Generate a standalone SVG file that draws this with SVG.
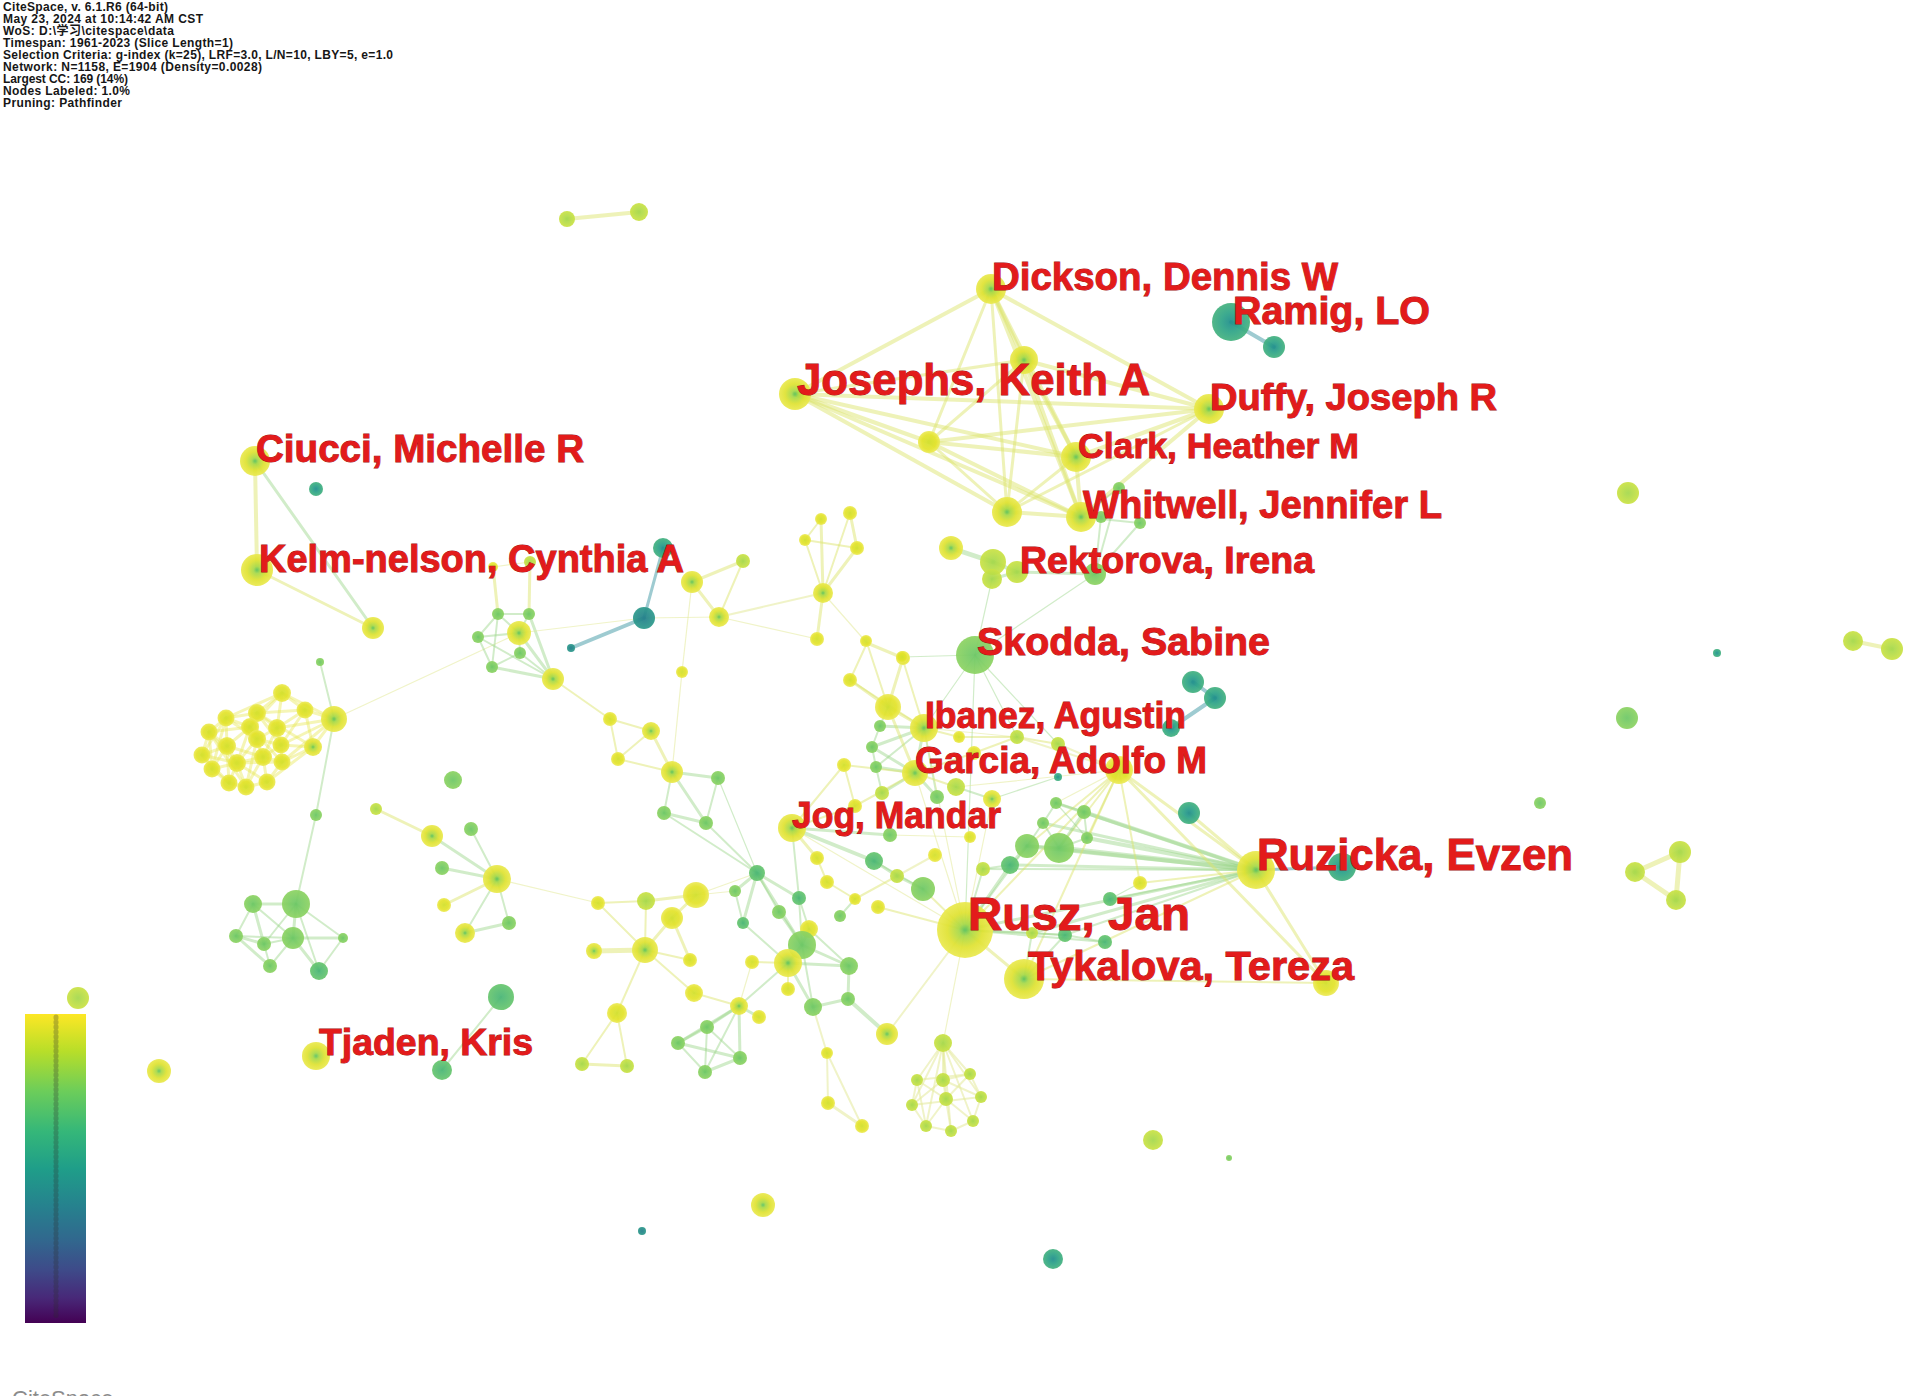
<svg xmlns="http://www.w3.org/2000/svg" width="1908" height="1396" viewBox="0 0 1908 1396">
<style>
.hd{font-family:"Liberation Sans","Noto Sans CJK SC",sans-serif;font-weight:700;font-size:12px;fill:#161616}
.lb{font-family:"Liberation Sans",Arial,sans-serif;font-weight:700;fill:#e31b1b;stroke:#a01212;stroke-width:.9px;paint-order:stroke}
.y{fill:url(#gY)}.yc{fill:url(#gYC)}.yg{fill:url(#gYG)}.g{fill:url(#gG)}.gg{fill:url(#gGG)}.t{fill:url(#gT)}.tb{fill:url(#gTB)}
circle{opacity:.93}
line{stroke-linecap:round;fill:none}
.ey{stroke:#dbe36a;stroke-opacity:.48}
.el{stroke:#e3e99a;stroke-opacity:.55}
.eg{stroke:#98d488;stroke-opacity:.45}
.et{stroke:#7db9c2;stroke-opacity:.75}
.ec{stroke:#e8e650;stroke-opacity:.42}
.w1{stroke-width:1.2px}.w2{stroke-width:2px}.w3{stroke-width:3px}.w4{stroke-width:4px}.w5{stroke-width:5px}
</style>
<defs>
<radialGradient id="gY"><stop offset="0" stop-color="#d2e030"/><stop offset=".65" stop-color="#e3e32a"/><stop offset="1" stop-color="#ecea58"/></radialGradient>
<radialGradient id="gYC"><stop offset="0" stop-color="#5cc25f"/><stop offset=".22" stop-color="#a8d948"/><stop offset=".62" stop-color="#dfe232"/><stop offset="1" stop-color="#eae94f"/></radialGradient>
<radialGradient id="gYG"><stop offset="0" stop-color="#a4d84c"/><stop offset="1" stop-color="#cbe244"/></radialGradient>
<radialGradient id="gG"><stop offset="0" stop-color="#6cc766"/><stop offset="1" stop-color="#8dd362"/></radialGradient>
<radialGradient id="gGG"><stop offset="0" stop-color="#48b576"/><stop offset="1" stop-color="#68c66e"/></radialGradient>
<radialGradient id="gT"><stop offset="0" stop-color="#1e8d8c"/><stop offset=".5" stop-color="#2ea487"/><stop offset="1" stop-color="#45b27f"/></radialGradient>
<radialGradient id="gTB"><stop offset="0" stop-color="#227e8a"/><stop offset="1" stop-color="#2d9a8b"/></radialGradient>
<linearGradient id="legend" x1="0" y1="0" x2="0" y2="1">
<stop offset="0" stop-color="#fde725"/><stop offset=".12" stop-color="#b8de29"/><stop offset=".25" stop-color="#6ccd5a"/><stop offset=".38" stop-color="#35b779"/><stop offset=".5" stop-color="#1f9e89"/><stop offset=".62" stop-color="#26828e"/><stop offset=".73" stop-color="#31688e"/><stop offset=".83" stop-color="#3e4a89"/><stop offset=".92" stop-color="#482878"/><stop offset="1" stop-color="#440154"/>
</linearGradient>
</defs>
<rect width="1908" height="1396" fill="#ffffff"/>

<g id="header">
<text class="hd" x="3" y="11" textLength="165">CiteSpace, v. 6.1.R6 (64-bit)</text>
<text class="hd" x="3" y="23" textLength="200">May 23, 2024 at 10:14:42 AM CST</text>
<text class="hd" x="3" y="35" textLength="171">WoS: D:\学习\citespace\data</text>
<text class="hd" x="3" y="47" textLength="230">Timespan: 1961-2023 (Slice Length=1)</text>
<text class="hd" x="3" y="59" textLength="390">Selection Criteria: g-index (k=25), LRF=3.0, L/N=10, LBY=5, e=1.0</text>
<text class="hd" x="3" y="71" textLength="259">Network: N=1158, E=1904 (Density=0.0028)</text>
<text class="hd" x="3" y="83" textLength="125">Largest CC: 169 (14%)</text>
<text class="hd" x="3" y="95" textLength="127">Nodes Labeled: 1.0%</text>
<text class="hd" x="3" y="107" textLength="119">Pruning: Pathfinder</text>
</g>

<g id="legend-bar">
<rect x="25" y="1014" width="61" height="309" fill="url(#legend)"/>
<line x1="56" y1="1017" x2="56" y2="1319" stroke="#2a2a2a" stroke-opacity=".28" stroke-width="5" stroke-dasharray="1 3.8"/>
</g>
<text x="12" y="1406" font-family="Liberation Sans, Arial, sans-serif" font-size="22" fill="#8c8c8c">CiteSpace</text>

<g id="connectors">
<line class="ey w4" x1="795" y1="394" x2="991" y2="289"/>
<line class="ey w4" x1="795" y1="394" x2="1209" y2="409"/>
<line class="ey w4" x1="795" y1="394" x2="929" y2="442"/>
<line class="ey w4" x1="795" y1="394" x2="1076" y2="457"/>
<line class="ey w4" x1="795" y1="394" x2="1007" y2="512"/>
<line class="ey w4" x1="795" y1="394" x2="1081" y2="517"/>
<line class="ey w3" x1="795" y1="394" x2="1024" y2="360"/>
<line class="ey w4" x1="991" y1="289" x2="1024" y2="360"/>
<line class="ey w4" x1="991" y1="289" x2="1209" y2="409"/>
<line class="ey w3" x1="991" y1="289" x2="929" y2="442"/>
<line class="ey w4" x1="991" y1="289" x2="1076" y2="457"/>
<line class="ey w3" x1="991" y1="289" x2="1007" y2="512"/>
<line class="ey w4" x1="991" y1="289" x2="1081" y2="517"/>
<line class="ey w4" x1="1024" y1="360" x2="1209" y2="409"/>
<line class="ey w4" x1="1024" y1="360" x2="1076" y2="457"/>
<line class="ey w4" x1="1024" y1="360" x2="1081" y2="517"/>
<line class="ey w3" x1="1024" y1="360" x2="1007" y2="512"/>
<line class="ey w3" x1="1024" y1="360" x2="929" y2="442"/>
<line class="ey w4" x1="1209" y1="409" x2="929" y2="442"/>
<line class="ey w4" x1="1209" y1="409" x2="1076" y2="457"/>
<line class="ey w4" x1="1209" y1="409" x2="1081" y2="517"/>
<line class="ey w3" x1="1209" y1="409" x2="1007" y2="512"/>
<line class="ey w4" x1="929" y1="442" x2="1076" y2="457"/>
<line class="ey w4" x1="929" y1="442" x2="1081" y2="517"/>
<line class="ey w3" x1="929" y1="442" x2="1007" y2="512"/>
<line class="ey w4" x1="1076" y1="457" x2="1081" y2="517"/>
<line class="ey w3" x1="1076" y1="457" x2="1007" y2="512"/>
<line class="ey w4" x1="1007" y1="512" x2="1081" y2="517"/>
<line class="eg w2" x1="1081" y1="517" x2="1119" y2="488"/>
<line class="eg w2" x1="1081" y1="517" x2="1140" y2="523"/>
<line class="eg w2" x1="1101" y1="517" x2="1095" y2="574"/>
<line class="eg w2" x1="1140" y1="523" x2="1095" y2="574"/>
<line class="eg w2" x1="1119" y1="488" x2="1095" y2="574"/>
<line class="eg w5" x1="951" y1="548" x2="993" y2="562"/>
<line class="eg w4" x1="993" y1="562" x2="1017" y2="572"/>
<line class="eg w3" x1="1017" y1="572" x2="992" y2="579"/>
<line class="eg w3" x1="1017" y1="572" x2="1095" y2="574"/>
<line class="eg w1" x1="975" y1="655" x2="1095" y2="574"/>
<line class="eg w1" x1="975" y1="655" x2="992" y2="579"/>
<line class="et w4" x1="1231" y1="322" x2="1274" y2="347"/>
<line class="ey w4" x1="255" y1="461" x2="257" y2="570"/>
<line class="eg w3" x1="255" y1="461" x2="373" y2="628"/>
<line class="ey w3" x1="257" y1="570" x2="373" y2="628"/>
<line class="ec w3" x1="282" y1="693" x2="305" y2="710"/>
<line class="ec w3" x1="282" y1="693" x2="257" y2="713"/>
<line class="ec w3" x1="282" y1="693" x2="277" y2="728"/>
<line class="ec w3" x1="282" y1="693" x2="334" y2="719"/>
<line class="ec w3" x1="282" y1="693" x2="250" y2="727"/>
<line class="ec w3" x1="282" y1="693" x2="226" y2="718"/>
<line class="ec w3" x1="305" y1="710" x2="277" y2="728"/>
<line class="ec w3" x1="305" y1="710" x2="334" y2="719"/>
<line class="ec w3" x1="305" y1="710" x2="257" y2="713"/>
<line class="ec w3" x1="305" y1="710" x2="281" y2="745"/>
<line class="ec w3" x1="226" y1="718" x2="257" y2="713"/>
<line class="ec w3" x1="226" y1="718" x2="209" y2="732"/>
<line class="ec w3" x1="226" y1="718" x2="250" y2="727"/>
<line class="ec w3" x1="226" y1="718" x2="227" y2="746"/>
<line class="ec w3" x1="226" y1="718" x2="257" y2="739"/>
<line class="ec w3" x1="257" y1="713" x2="250" y2="727"/>
<line class="ec w3" x1="257" y1="713" x2="277" y2="728"/>
<line class="ec w3" x1="257" y1="713" x2="257" y2="739"/>
<line class="ec w3" x1="257" y1="713" x2="281" y2="745"/>
<line class="ec w3" x1="209" y1="732" x2="250" y2="727"/>
<line class="ec w3" x1="209" y1="732" x2="227" y2="746"/>
<line class="ec w3" x1="209" y1="732" x2="202" y2="755"/>
<line class="ec w3" x1="209" y1="732" x2="212" y2="769"/>
<line class="ec w3" x1="209" y1="732" x2="237" y2="763"/>
<line class="ec w3" x1="250" y1="727" x2="257" y2="739"/>
<line class="ec w3" x1="250" y1="727" x2="227" y2="746"/>
<line class="ec w3" x1="250" y1="727" x2="263" y2="757"/>
<line class="ec w3" x1="250" y1="727" x2="237" y2="763"/>
<line class="ec w3" x1="277" y1="728" x2="257" y2="739"/>
<line class="ec w3" x1="277" y1="728" x2="281" y2="745"/>
<line class="ec w3" x1="277" y1="728" x2="334" y2="719"/>
<line class="ec w3" x1="277" y1="728" x2="263" y2="757"/>
<line class="ec w3" x1="257" y1="739" x2="281" y2="745"/>
<line class="ec w3" x1="257" y1="739" x2="263" y2="757"/>
<line class="ec w3" x1="257" y1="739" x2="237" y2="763"/>
<line class="ec w3" x1="257" y1="739" x2="246" y2="787"/>
<line class="ec w3" x1="227" y1="746" x2="202" y2="755"/>
<line class="ec w3" x1="227" y1="746" x2="237" y2="763"/>
<line class="ec w3" x1="227" y1="746" x2="263" y2="757"/>
<line class="ec w3" x1="227" y1="746" x2="212" y2="769"/>
<line class="ec w3" x1="227" y1="746" x2="229" y2="783"/>
<line class="ec w3" x1="281" y1="745" x2="263" y2="757"/>
<line class="ec w3" x1="281" y1="745" x2="282" y2="762"/>
<line class="ec w3" x1="281" y1="745" x2="334" y2="719"/>
<line class="ec w3" x1="281" y1="745" x2="313" y2="747"/>
<line class="ec w3" x1="202" y1="755" x2="212" y2="769"/>
<line class="ec w3" x1="202" y1="755" x2="237" y2="763"/>
<line class="ec w3" x1="202" y1="755" x2="229" y2="783"/>
<line class="ec w3" x1="263" y1="757" x2="237" y2="763"/>
<line class="ec w3" x1="263" y1="757" x2="282" y2="762"/>
<line class="ec w3" x1="263" y1="757" x2="267" y2="782"/>
<line class="ec w3" x1="263" y1="757" x2="246" y2="787"/>
<line class="ec w3" x1="237" y1="763" x2="212" y2="769"/>
<line class="ec w3" x1="237" y1="763" x2="229" y2="783"/>
<line class="ec w3" x1="237" y1="763" x2="246" y2="787"/>
<line class="ec w3" x1="237" y1="763" x2="267" y2="782"/>
<line class="ec w3" x1="282" y1="762" x2="267" y2="782"/>
<line class="ec w3" x1="282" y1="762" x2="334" y2="719"/>
<line class="ec w3" x1="282" y1="762" x2="313" y2="747"/>
<line class="ec w3" x1="212" y1="769" x2="229" y2="783"/>
<line class="ec w3" x1="229" y1="783" x2="246" y2="787"/>
<line class="ec w3" x1="246" y1="787" x2="267" y2="782"/>
<line class="ec w3" x1="267" y1="782" x2="313" y2="747"/>
<line class="ec w3" x1="313" y1="747" x2="334" y2="719"/>
<line class="ec w3" x1="305" y1="710" x2="313" y2="747"/>
<line class="ec w3" x1="226" y1="718" x2="202" y2="755"/>
<line class="ec w3" x1="226" y1="718" x2="212" y2="769"/>
<line class="ec w3" x1="209" y1="732" x2="246" y2="787"/>
<line class="ec w3" x1="250" y1="727" x2="282" y2="762"/>
<line class="ec w3" x1="257" y1="713" x2="313" y2="747"/>
<line class="ec w3" x1="237" y1="763" x2="282" y2="762"/>
<line class="eg w2" x1="334" y1="719" x2="320" y2="662"/>
<line class="eg w2" x1="334" y1="719" x2="316" y2="815"/>
<line class="el w1" x1="334" y1="719" x2="519" y2="633"/>
<line class="eg w2" x1="316" y1="815" x2="296" y2="904"/>
<line class="ey w3" x1="376" y1="809" x2="432" y2="836"/>
<line class="eg w3" x1="253" y1="904" x2="296" y2="904"/>
<line class="eg w2" x1="253" y1="904" x2="236" y2="936"/>
<line class="eg w3" x1="253" y1="904" x2="264" y2="944"/>
<line class="eg w2" x1="253" y1="904" x2="293" y2="938"/>
<line class="eg w3" x1="296" y1="904" x2="293" y2="938"/>
<line class="eg w2" x1="296" y1="904" x2="264" y2="944"/>
<line class="eg w2" x1="296" y1="904" x2="343" y2="938"/>
<line class="eg w2" x1="296" y1="904" x2="319" y2="971"/>
<line class="eg w3" x1="236" y1="936" x2="264" y2="944"/>
<line class="eg w3" x1="236" y1="936" x2="270" y2="966"/>
<line class="eg w2" x1="236" y1="936" x2="293" y2="938"/>
<line class="eg w2" x1="264" y1="944" x2="270" y2="966"/>
<line class="eg w2" x1="264" y1="944" x2="293" y2="938"/>
<line class="eg w3" x1="293" y1="938" x2="343" y2="938"/>
<line class="eg w3" x1="293" y1="938" x2="319" y2="971"/>
<line class="eg w2" x1="293" y1="938" x2="270" y2="966"/>
<line class="eg w2" x1="343" y1="938" x2="319" y2="971"/>
<line class="eg w3" x1="497" y1="879" x2="432" y2="836"/>
<line class="eg w2" x1="497" y1="879" x2="471" y2="829"/>
<line class="eg w3" x1="497" y1="879" x2="442" y2="868"/>
<line class="ey w3" x1="497" y1="879" x2="444" y2="905"/>
<line class="eg w2" x1="497" y1="879" x2="509" y2="923"/>
<line class="eg w2" x1="497" y1="879" x2="465" y2="933"/>
<line class="el w1" x1="497" y1="879" x2="598" y2="903"/>
<line class="eg w3" x1="465" y1="933" x2="509" y2="923"/>
<line class="eg w2" x1="501" y1="997" x2="442" y2="1070"/>
<line class="eg w2" x1="498" y1="614" x2="529" y2="614"/>
<line class="eg w2" x1="498" y1="614" x2="478" y2="637"/>
<line class="eg w2" x1="498" y1="614" x2="519" y2="633"/>
<line class="eg w2" x1="498" y1="614" x2="492" y2="667"/>
<line class="eg w2" x1="529" y1="614" x2="519" y2="633"/>
<line class="eg w3" x1="529" y1="614" x2="553" y2="679"/>
<line class="eg w2" x1="478" y1="637" x2="519" y2="633"/>
<line class="eg w2" x1="478" y1="637" x2="492" y2="667"/>
<line class="eg w2" x1="519" y1="633" x2="520" y2="653"/>
<line class="eg w3" x1="519" y1="633" x2="553" y2="679"/>
<line class="eg w2" x1="520" y1="653" x2="492" y2="667"/>
<line class="eg w2" x1="520" y1="653" x2="553" y2="679"/>
<line class="eg w3" x1="492" y1="667" x2="553" y2="679"/>
<line class="eg w2" x1="478" y1="637" x2="553" y2="679"/>
<line class="ey w3" x1="493" y1="567" x2="498" y2="614"/>
<line class="ey w3" x1="530" y1="562" x2="529" y2="614"/>
<line class="el w1" x1="493" y1="567" x2="530" y2="562"/>
<line class="el w1" x1="519" y1="633" x2="644" y2="618"/>
<line class="el w1" x1="644" y1="618" x2="719" y2="617"/>
<line class="et w3" x1="644" y1="618" x2="663" y2="548"/>
<line class="et w4" x1="644" y1="618" x2="571" y2="648"/>
<line class="ey w2" x1="553" y1="679" x2="610" y2="719"/>
<line class="ey w2" x1="610" y1="719" x2="651" y2="731"/>
<line class="ey w2" x1="610" y1="719" x2="618" y2="759"/>
<line class="ey w3" x1="651" y1="731" x2="672" y2="772"/>
<line class="ey w2" x1="618" y1="759" x2="672" y2="772"/>
<line class="ey w2" x1="651" y1="731" x2="618" y2="759"/>
<line class="ey w3" x1="692" y1="582" x2="743" y2="561"/>
<line class="ey w3" x1="692" y1="582" x2="719" y2="617"/>
<line class="ey w2" x1="743" y1="561" x2="719" y2="617"/>
<line class="el w1" x1="692" y1="582" x2="682" y2="672"/>
<line class="el w1" x1="682" y1="672" x2="672" y2="772"/>
<line class="el w2" x1="719" y1="617" x2="823" y2="593"/>
<line class="el w1" x1="719" y1="617" x2="817" y2="639"/>
<line class="ey w3" x1="823" y1="593" x2="817" y2="639"/>
<line class="ey w3" x1="823" y1="593" x2="821" y2="519"/>
<line class="ey w2" x1="823" y1="593" x2="850" y2="513"/>
<line class="ey w2" x1="823" y1="593" x2="805" y2="540"/>
<line class="ey w3" x1="823" y1="593" x2="857" y2="548"/>
<line class="ey w2" x1="805" y1="540" x2="857" y2="548"/>
<line class="ey w3" x1="850" y1="513" x2="857" y2="548"/>
<line class="ey w2" x1="821" y1="519" x2="805" y2="540"/>
<line class="el w1" x1="823" y1="593" x2="867" y2="643"/>
<line class="ey w3" x1="867" y1="643" x2="903" y2="658"/>
<line class="ey w2" x1="867" y1="643" x2="850" y2="680"/>
<line class="ey w3" x1="850" y1="680" x2="888" y2="707"/>
<line class="ey w3" x1="903" y1="658" x2="888" y2="707"/>
<line class="ey w2" x1="867" y1="643" x2="888" y2="707"/>
<line class="eg w3" x1="672" y1="772" x2="718" y2="778"/>
<line class="eg w2" x1="672" y1="772" x2="664" y2="813"/>
<line class="eg w3" x1="672" y1="772" x2="706" y2="823"/>
<line class="eg w3" x1="664" y1="813" x2="706" y2="823"/>
<line class="eg w2" x1="718" y1="778" x2="706" y2="823"/>
<line class="eg w2" x1="706" y1="823" x2="757" y2="873"/>
<line class="eg w2" x1="664" y1="813" x2="757" y2="873"/>
<line class="eg w1" x1="718" y1="778" x2="757" y2="873"/>
<line class="eg w3" x1="757" y1="873" x2="735" y2="891"/>
<line class="eg w3" x1="757" y1="873" x2="799" y2="898"/>
<line class="eg w2" x1="757" y1="873" x2="779" y2="912"/>
<line class="eg w3" x1="757" y1="873" x2="802" y2="945"/>
<line class="eg w3" x1="757" y1="873" x2="743" y2="923"/>
<line class="el w1" x1="757" y1="873" x2="696" y2="895"/>
<line class="eg w2" x1="802" y1="945" x2="799" y2="898"/>
<line class="eg w3" x1="802" y1="945" x2="809" y2="929"/>
<line class="eg w3" x1="802" y1="945" x2="779" y2="912"/>
<line class="eg w3" x1="802" y1="945" x2="788" y2="963"/>
<line class="eg w3" x1="802" y1="945" x2="849" y2="966"/>
<line class="eg w2" x1="802" y1="945" x2="813" y2="1007"/>
<line class="ey w2" x1="788" y1="963" x2="752" y2="962"/>
<line class="eg w3" x1="788" y1="963" x2="849" y2="966"/>
<line class="eg w3" x1="788" y1="963" x2="813" y2="1007"/>
<line class="eg w2" x1="788" y1="963" x2="739" y2="1006"/>
<line class="ey w2" x1="788" y1="963" x2="788" y2="989"/>
<line class="eg w3" x1="849" y1="966" x2="848" y2="999"/>
<line class="eg w3" x1="813" y1="1007" x2="848" y2="999"/>
<line class="eg w4" x1="848" y1="999" x2="887" y2="1034"/>
<line class="el w2" x1="813" y1="1007" x2="827" y2="1053"/>
<line class="el w2" x1="827" y1="1053" x2="828" y2="1103"/>
<line class="el w2" x1="827" y1="1053" x2="862" y2="1126"/>
<line class="el w3" x1="828" y1="1103" x2="862" y2="1126"/>
<line class="eg w2" x1="809" y1="929" x2="849" y2="966"/>
<line class="eg w2" x1="735" y1="891" x2="743" y2="923"/>
<line class="eg w2" x1="743" y1="923" x2="788" y2="963"/>
<line class="eg w2" x1="809" y1="929" x2="799" y2="898"/>
<line class="eg w3" x1="739" y1="1006" x2="759" y2="1017"/>
<line class="eg w3" x1="739" y1="1006" x2="707" y2="1027"/>
<line class="eg w3" x1="739" y1="1006" x2="678" y2="1043"/>
<line class="eg w3" x1="739" y1="1006" x2="740" y2="1058"/>
<line class="eg w2" x1="739" y1="1006" x2="705" y2="1072"/>
<line class="ey w2" x1="739" y1="1006" x2="694" y2="993"/>
<line class="el w1" x1="739" y1="1006" x2="752" y2="962"/>
<line class="eg w3" x1="707" y1="1027" x2="678" y2="1043"/>
<line class="eg w3" x1="678" y1="1043" x2="740" y2="1058"/>
<line class="eg w2" x1="678" y1="1043" x2="705" y2="1072"/>
<line class="eg w3" x1="705" y1="1072" x2="740" y2="1058"/>
<line class="eg w2" x1="707" y1="1027" x2="740" y2="1058"/>
<line class="eg w2" x1="707" y1="1027" x2="705" y2="1072"/>
<line class="ey w2" x1="598" y1="903" x2="646" y2="901"/>
<line class="ey w3" x1="646" y1="901" x2="696" y2="895"/>
<line class="ey w3" x1="696" y1="895" x2="672" y2="918"/>
<line class="ey w2" x1="646" y1="901" x2="645" y2="950"/>
<line class="ey w5" x1="594" y1="951" x2="645" y2="950"/>
<line class="ey w3" x1="645" y1="950" x2="672" y2="918"/>
<line class="ey w2" x1="645" y1="950" x2="690" y2="960"/>
<line class="ey w3" x1="672" y1="918" x2="690" y2="960"/>
<line class="ey w2" x1="645" y1="950" x2="617" y2="1013"/>
<line class="ey w2" x1="598" y1="903" x2="645" y2="950"/>
<line class="ey w2" x1="645" y1="950" x2="694" y2="993"/>
<line class="ey w2" x1="617" y1="1013" x2="582" y2="1064"/>
<line class="ey w2" x1="617" y1="1013" x2="627" y2="1066"/>
<line class="ey w3" x1="582" y1="1064" x2="627" y2="1066"/>
<line class="el w1" x1="696" y1="895" x2="735" y2="891"/>
<line class="eg w3" x1="792" y1="828" x2="890" y2="835"/>
<line class="ey w3" x1="792" y1="828" x2="817" y2="858"/>
<line class="eg w4" x1="792" y1="828" x2="874" y2="861"/>
<line class="ey w2" x1="792" y1="828" x2="855" y2="806"/>
<line class="ey w2" x1="792" y1="828" x2="844" y2="765"/>
<line class="el w1" x1="792" y1="828" x2="965" y2="930"/>
<line class="eg w2" x1="792" y1="828" x2="799" y2="898"/>
<line class="ey w2" x1="817" y1="858" x2="827" y2="882"/>
<line class="eg w3" x1="874" y1="861" x2="897" y2="876"/>
<line class="eg w3" x1="897" y1="876" x2="923" y2="889"/>
<line class="eg w2" x1="874" y1="861" x2="923" y2="889"/>
<line class="ey w2" x1="923" y1="889" x2="965" y2="930"/>
<line class="ey w2" x1="878" y1="907" x2="965" y2="930"/>
<line class="ey w2" x1="855" y1="899" x2="897" y2="876"/>
<line class="eg w2" x1="840" y1="916" x2="855" y2="899"/>
<line class="ey w2" x1="827" y1="882" x2="855" y2="899"/>
<line class="el w1" x1="890" y1="835" x2="970" y2="837"/>
<line class="el w2" x1="935" y1="855" x2="897" y2="876"/>
<line class="ey w3" x1="924" y1="728" x2="888" y2="707"/>
<line class="eg w3" x1="924" y1="728" x2="880" y2="726"/>
<line class="eg w3" x1="924" y1="728" x2="872" y2="747"/>
<line class="eg w2" x1="924" y1="728" x2="876" y2="767"/>
<line class="eg w3" x1="924" y1="728" x2="915" y2="773"/>
<line class="ey w2" x1="924" y1="728" x2="959" y2="737"/>
<line class="ey w2" x1="924" y1="728" x2="902" y2="657"/>
<line class="eg w1" x1="924" y1="728" x2="975" y2="655"/>
<line class="ey w2" x1="924" y1="728" x2="850" y2="680"/>
<line class="eg w2" x1="924" y1="728" x2="937" y2="797"/>
<line class="el w1" x1="924" y1="728" x2="1017" y2="737"/>
<line class="eg w3" x1="915" y1="773" x2="872" y2="747"/>
<line class="eg w3" x1="915" y1="773" x2="876" y2="767"/>
<line class="eg w3" x1="915" y1="773" x2="882" y2="793"/>
<line class="ey w2" x1="915" y1="773" x2="844" y2="765"/>
<line class="ey w2" x1="915" y1="773" x2="855" y2="806"/>
<line class="eg w3" x1="915" y1="773" x2="937" y2="797"/>
<line class="ey w2" x1="915" y1="773" x2="956" y2="787"/>
<line class="ey w2" x1="915" y1="773" x2="974" y2="753"/>
<line class="ey w3" x1="915" y1="773" x2="888" y2="707"/>
<line class="eg w2" x1="880" y1="726" x2="872" y2="747"/>
<line class="eg w2" x1="872" y1="747" x2="876" y2="767"/>
<line class="eg w2" x1="876" y1="767" x2="882" y2="793"/>
<line class="ey w2" x1="844" y1="765" x2="855" y2="806"/>
<line class="eg w2" x1="888" y1="707" x2="880" y2="726"/>
<line class="eg w2" x1="956" y1="787" x2="992" y2="799"/>
<line class="ey w2" x1="974" y1="753" x2="1017" y2="737"/>
<line class="ey w2" x1="1017" y1="737" x2="1058" y2="744"/>
<line class="ey w2" x1="959" y1="737" x2="1017" y2="737"/>
<line class="eg w1" x1="975" y1="655" x2="1017" y2="737"/>
<line class="eg w1" x1="975" y1="655" x2="902" y2="657"/>
<line class="eg w1" x1="975" y1="655" x2="965" y2="930"/>
<line class="eg w1" x1="975" y1="655" x2="1058" y2="744"/>
<line class="eg w1" x1="992" y1="799" x2="1058" y2="777"/>
<line class="et w4" x1="1193" y1="682" x2="1215" y2="698"/>
<line class="et w4" x1="1215" y1="698" x2="1171" y2="728"/>
<line class="ey w3" x1="1256" y1="870" x2="1119" y2="770"/>
<line class="eg w4" x1="1256" y1="870" x2="1084" y2="812"/>
<line class="eg w4" x1="1256" y1="870" x2="1087" y2="838"/>
<line class="eg w5" x1="1256" y1="870" x2="1059" y2="848"/>
<line class="eg w4" x1="1256" y1="870" x2="1027" y2="846"/>
<line class="eg w3" x1="1256" y1="870" x2="1010" y2="865"/>
<line class="eg w3" x1="1256" y1="870" x2="1056" y2="803"/>
<line class="eg w3" x1="1256" y1="870" x2="1043" y2="823"/>
<line class="eg w3" x1="1256" y1="870" x2="965" y2="930"/>
<line class="eg w3" x1="1256" y1="870" x2="1032" y2="933"/>
<line class="eg w2" x1="1256" y1="870" x2="1065" y2="935"/>
<line class="eg w2" x1="1256" y1="870" x2="1110" y2="899"/>
<line class="ey w2" x1="1256" y1="870" x2="1140" y2="883"/>
<line class="ey w2" x1="1256" y1="870" x2="1024" y2="979"/>
<line class="ey w3" x1="1256" y1="870" x2="1326" y2="983"/>
<line class="ey w3" x1="1256" y1="870" x2="1189" y2="813"/>
<line class="eg w2" x1="1256" y1="870" x2="983" y2="869"/>
<line class="et w3" x1="1256" y1="870" x2="1342" y2="867"/>
<line class="ey w2" x1="1119" y1="770" x2="965" y2="930"/>
<line class="ey w2" x1="1119" y1="770" x2="1024" y2="979"/>
<line class="ey w3" x1="1119" y1="770" x2="1326" y2="983"/>
<line class="ey w2" x1="1119" y1="770" x2="1140" y2="883"/>
<line class="ey w2" x1="1119" y1="770" x2="1059" y2="848"/>
<line class="ey w2" x1="1119" y1="770" x2="1027" y2="846"/>
<line class="ey w2" x1="1119" y1="770" x2="1087" y2="838"/>
<line class="el w1" x1="1119" y1="770" x2="1056" y2="803"/>
<line class="el w2" x1="1119" y1="770" x2="1017" y2="737"/>
<line class="el w2" x1="1119" y1="770" x2="1058" y2="744"/>
<line class="el w1" x1="1119" y1="770" x2="956" y2="787"/>
<line class="ey w3" x1="965" y1="930" x2="1024" y2="979"/>
<line class="eg w3" x1="965" y1="930" x2="1010" y2="865"/>
<line class="eg w2" x1="965" y1="930" x2="1027" y2="846"/>
<line class="eg w2" x1="965" y1="930" x2="983" y2="869"/>
<line class="eg w2" x1="965" y1="930" x2="1032" y2="933"/>
<line class="eg w2" x1="965" y1="930" x2="1065" y2="935"/>
<line class="eg w2" x1="965" y1="930" x2="1105" y2="942"/>
<line class="el w1" x1="965" y1="930" x2="943" y2="1043"/>
<line class="el w2" x1="965" y1="930" x2="887" y2="1034"/>
<line class="el w1" x1="965" y1="930" x2="915" y2="773"/>
<line class="el w1" x1="965" y1="930" x2="924" y2="728"/>
<line class="el w1" x1="965" y1="930" x2="992" y2="799"/>
<line class="ey w2" x1="1024" y1="979" x2="1326" y2="983"/>
<line class="eg w2" x1="1024" y1="979" x2="1032" y2="933"/>
<line class="eg w2" x1="1024" y1="979" x2="1065" y2="935"/>
<line class="eg w3" x1="1059" y1="848" x2="1027" y2="846"/>
<line class="eg w3" x1="1059" y1="848" x2="1084" y2="812"/>
<line class="eg w2" x1="1059" y1="848" x2="1087" y2="838"/>
<line class="eg w2" x1="1056" y1="803" x2="1084" y2="812"/>
<line class="eg w2" x1="1056" y1="803" x2="1043" y2="823"/>
<line class="eg w2" x1="1043" y1="823" x2="1027" y2="846"/>
<line class="eg w2" x1="1084" y1="812" x2="1087" y2="838"/>
<line class="eg w3" x1="1027" y1="846" x2="1010" y2="865"/>
<line class="eg w2" x1="1010" y1="865" x2="983" y2="869"/>
<line class="eg w2" x1="1043" y1="823" x2="1059" y2="848"/>
<line class="eg w1" x1="1056" y1="803" x2="1087" y2="838"/>
<line class="eg w2" x1="1065" y1="935" x2="1105" y2="942"/>
<line class="eg w2" x1="1032" y1="933" x2="1065" y2="935"/>
<line class="eg w1" x1="1140" y1="883" x2="1110" y2="899"/>
<line class="el w2" x1="943" y1="1043" x2="917" y2="1080"/>
<line class="el w2" x1="943" y1="1043" x2="943" y2="1080"/>
<line class="el w2" x1="943" y1="1043" x2="970" y2="1074"/>
<line class="el w2" x1="943" y1="1043" x2="946" y2="1099"/>
<line class="el w2" x1="943" y1="1043" x2="912" y2="1105"/>
<line class="el w2" x1="943" y1="1043" x2="981" y2="1097"/>
<line class="el w2" x1="943" y1="1043" x2="926" y2="1126"/>
<line class="el w2" x1="943" y1="1043" x2="951" y2="1131"/>
<line class="el w2" x1="943" y1="1043" x2="973" y2="1121"/>
<line class="el w2" x1="917" y1="1080" x2="912" y2="1105"/>
<line class="el w2" x1="917" y1="1080" x2="946" y2="1099"/>
<line class="el w2" x1="917" y1="1080" x2="926" y2="1126"/>
<line class="el w2" x1="943" y1="1080" x2="970" y2="1074"/>
<line class="el w2" x1="943" y1="1080" x2="981" y2="1097"/>
<line class="el w2" x1="943" y1="1080" x2="951" y2="1131"/>
<line class="el w2" x1="943" y1="1080" x2="912" y2="1105"/>
<line class="el w2" x1="970" y1="1074" x2="981" y2="1097"/>
<line class="el w2" x1="970" y1="1074" x2="946" y2="1099"/>
<line class="el w2" x1="946" y1="1099" x2="973" y2="1121"/>
<line class="el w2" x1="946" y1="1099" x2="926" y2="1126"/>
<line class="el w2" x1="912" y1="1105" x2="926" y2="1126"/>
<line class="el w2" x1="926" y1="1126" x2="951" y2="1131"/>
<line class="el w2" x1="951" y1="1131" x2="973" y2="1121"/>
<line class="el w2" x1="973" y1="1121" x2="981" y2="1097"/>
<line class="el w2" x1="912" y1="1105" x2="981" y2="1097"/>
<line class="el w2" x1="917" y1="1080" x2="970" y2="1074"/>
<line class="ey w4" x1="567" y1="219" x2="639" y2="212"/>
<line class="ey w4" x1="1853" y1="641" x2="1892" y2="649"/>
<line class="ey w5" x1="1680" y1="852" x2="1635" y2="872"/>
<line class="ey w5" x1="1680" y1="852" x2="1676" y2="900"/>
<line class="ey w5" x1="1635" y1="872" x2="1676" y2="900"/>
</g>

<g id="nodes">
<g id="n-top1"><circle class="yg" cx="567" cy="219" r="8"/></g>
<g id="n-top2"><circle class="yg" cx="639" cy="212" r="9"/></g>
<g id="n-ramig2"><circle class="t" cx="1274" cy="347" r="11"/></g>
<g id="n-j1"><circle class="yc" cx="1024" cy="360" r="14"/></g>
<g id="n-j2"><circle class="y" cx="929" cy="442" r="11"/></g>
<g id="n-j3"><circle class="yc" cx="1007" cy="512" r="15"/></g>
<g id="n-wg1"><circle class="g" cx="1119" cy="488" r="6"/></g>
<g id="n-wg2"><circle class="g" cx="1101" cy="517" r="6"/></g>
<g id="n-wg3"><circle class="g" cx="1140" cy="523" r="6"/></g>
<g id="n-sc1"><circle class="y" cx="821" cy="519" r="6"/></g>
<g id="n-sc2"><circle class="y" cx="850" cy="513" r="7"/></g>
<g id="n-sc3"><circle class="y" cx="805" cy="540" r="6"/></g>
<g id="n-sc4"><circle class="y" cx="857" cy="548" r="7"/></g>
<g id="n-sc5"><circle class="yc" cx="823" cy="593" r="10"/></g>
<g id="n-sc6"><circle class="y" cx="817" cy="639" r="7"/></g>
<g id="n-rk1"><circle class="yc" cx="951" cy="548" r="12"/></g>
<g id="n-rk2"><circle class="yg" cx="993" cy="562" r="13"/></g>
<g id="n-rk4"><circle class="yg" cx="992" cy="579" r="10"/></g>
<g id="n-rk5"><circle class="g" cx="1095" cy="574" r="11"/></g>
<g id="n-ct1"><circle class="t" cx="316" cy="489" r="7"/></g>
<g id="n-ck1"><circle class="yc" cx="373" cy="628" r="11"/></g>
<g id="n-tl1"><circle class="t" cx="663" cy="548" r="10"/></g>
<g id="n-tl2"><circle class="tb" cx="644" cy="618" r="11"/></g>
<g id="n-tl3"><circle class="tb" cx="571" cy="648" r="4"/></g>
<g id="n-kc1"><circle class="g" cx="498" cy="614" r="6"/></g>
<g id="n-kc2"><circle class="g" cx="529" cy="614" r="6"/></g>
<g id="n-kc3"><circle class="g" cx="478" cy="637" r="6"/></g>
<g id="n-kc4"><circle class="yc" cx="519" cy="633" r="12"/></g>
<g id="n-kc5"><circle class="g" cx="520" cy="653" r="6"/></g>
<g id="n-kc6"><circle class="g" cx="492" cy="667" r="6"/></g>
<g id="n-kc7"><circle class="yc" cx="553" cy="679" r="11"/></g>
<g id="n-kc8"><circle class="y" cx="493" cy="567" r="5"/></g>
<g id="n-kc9"><circle class="yg" cx="530" cy="562" r="6"/></g>
<g id="n-m1"><circle class="yc" cx="692" cy="582" r="11"/></g>
<g id="n-m2"><circle class="yg" cx="743" cy="561" r="7"/></g>
<g id="n-m3"><circle class="yc" cx="719" cy="617" r="10"/></g>
<g id="n-m4"><circle class="y" cx="682" cy="672" r="6"/></g>
<g id="n-g1"><circle class="g" cx="320" cy="662" r="4"/></g>
<g id="n-yc-a"><circle class="y" cx="282" cy="693" r="9"/></g>
<g id="n-yc-b"><circle class="y" cx="305" cy="710" r="8.5"/></g>
<g id="n-yc-c"><circle class="y" cx="226" cy="718" r="8.5"/></g>
<g id="n-yc-d"><circle class="y" cx="257" cy="713" r="9"/></g>
<g id="n-yc-e"><circle class="y" cx="209" cy="732" r="8.5"/></g>
<g id="n-yc-f"><circle class="y" cx="250" cy="727" r="9"/></g>
<g id="n-yc-g"><circle class="y" cx="277" cy="728" r="9"/></g>
<g id="n-yc-h"><circle class="y" cx="257" cy="739" r="9"/></g>
<g id="n-yc-i"><circle class="y" cx="227" cy="746" r="9"/></g>
<g id="n-yc-j"><circle class="y" cx="281" cy="745" r="8.5"/></g>
<g id="n-yc-k"><circle class="y" cx="202" cy="755" r="8.5"/></g>
<g id="n-yc-l"><circle class="y" cx="263" cy="757" r="9"/></g>
<g id="n-yc-m"><circle class="y" cx="237" cy="763" r="9"/></g>
<g id="n-yc-n"><circle class="y" cx="282" cy="762" r="8.5"/></g>
<g id="n-yc-o"><circle class="y" cx="212" cy="769" r="8.5"/></g>
<g id="n-yc-p"><circle class="y" cx="229" cy="783" r="8.5"/></g>
<g id="n-yc-q"><circle class="y" cx="246" cy="787" r="8.5"/></g>
<g id="n-yc-r"><circle class="y" cx="267" cy="782" r="8.5"/></g>
<g id="n-yc-hub"><circle class="yc" cx="334" cy="719" r="13"/></g>
<g id="n-yc-s"><circle class="yc" cx="313" cy="747" r="9"/></g>
<g id="n-g2"><circle class="g" cx="316" cy="815" r="6"/></g>
<g id="n-y2"><circle class="yg" cx="376" cy="809" r="6"/></g>
<g id="n-lm1"><circle class="g" cx="253" cy="904" r="9"/></g>
<g id="n-lm2"><circle class="g" cx="296" cy="904" r="14"/></g>
<g id="n-lm3"><circle class="g" cx="236" cy="936" r="7"/></g>
<g id="n-lm4"><circle class="g" cx="264" cy="944" r="7"/></g>
<g id="n-lm5"><circle class="g" cx="293" cy="938" r="11"/></g>
<g id="n-lm6"><circle class="g" cx="343" cy="938" r="5"/></g>
<g id="n-lm7"><circle class="g" cx="270" cy="966" r="7"/></g>
<g id="n-lm8"><circle class="gg" cx="319" cy="971" r="9"/></g>
<g id="n-st1"><circle class="yc" cx="432" cy="836" r="11"/></g>
<g id="n-st2"><circle class="g" cx="471" cy="829" r="7"/></g>
<g id="n-st3"><circle class="g" cx="442" cy="868" r="7"/></g>
<g id="n-st4"><circle class="yc" cx="497" cy="879" r="14"/></g>
<g id="n-st5"><circle class="y" cx="444" cy="905" r="7"/></g>
<g id="n-st6"><circle class="g" cx="509" cy="923" r="7"/></g>
<g id="n-st7"><circle class="yc" cx="465" cy="933" r="10"/></g>
<g id="n-iso1"><circle class="g" cx="453" cy="780" r="9"/></g>
<g id="n-tj1"><circle class="gg" cx="501" cy="997" r="13"/></g>
<g id="n-tj2"><circle class="gg" cx="442" cy="1070" r="10"/></g>
<g id="n-leg"><circle class="yg" cx="78" cy="998" r="11"/></g>
<g id="n-iso2"><circle class="yc" cx="159" cy="1071" r="12"/></g>
<g id="n-c1"><circle class="y" cx="610" cy="719" r="7"/></g>
<g id="n-c2"><circle class="yc" cx="651" cy="731" r="9"/></g>
<g id="n-c3"><circle class="y" cx="618" cy="759" r="7"/></g>
<g id="n-c4"><circle class="yc" cx="672" cy="772" r="11"/></g>
<g id="n-c5"><circle class="g" cx="718" cy="778" r="7"/></g>
<g id="n-c6"><circle class="g" cx="664" cy="813" r="7"/></g>
<g id="n-c7"><circle class="g" cx="706" cy="823" r="7"/></g>
<g id="n-l1"><circle class="y" cx="598" cy="903" r="7"/></g>
<g id="n-l2"><circle class="yg" cx="646" cy="901" r="9"/></g>
<g id="n-l3"><circle class="y" cx="696" cy="895" r="13"/></g>
<g id="n-l4"><circle class="y" cx="672" cy="918" r="11"/></g>
<g id="n-l5"><circle class="yc" cx="594" cy="951" r="8"/></g>
<g id="n-l6"><circle class="yc" cx="645" cy="950" r="13"/></g>
<g id="n-l7"><circle class="y" cx="690" cy="960" r="7"/></g>
<g id="n-l8"><circle class="y" cx="694" cy="993" r="9"/></g>
<g id="n-l9"><circle class="y" cx="617" cy="1013" r="10"/></g>
<g id="n-l10"><circle class="yg" cx="582" cy="1064" r="7"/></g>
<g id="n-l11"><circle class="yg" cx="627" cy="1066" r="7"/></g>
<g id="n-d1"><circle class="gg" cx="757" cy="873" r="8"/></g>
<g id="n-d2"><circle class="g" cx="735" cy="891" r="6"/></g>
<g id="n-d3"><circle class="gg" cx="799" cy="898" r="7"/></g>
<g id="n-d4"><circle class="gg" cx="743" cy="923" r="6"/></g>
<g id="n-d5"><circle class="g" cx="779" cy="912" r="7"/></g>
<g id="n-d6"><circle class="y" cx="809" cy="929" r="9"/></g>
<g id="n-d7"><circle class="g" cx="802" cy="945" r="14"/></g>
<g id="n-d8"><circle class="yc" cx="788" cy="963" r="14"/></g>
<g id="n-d9"><circle class="y" cx="752" cy="962" r="7"/></g>
<g id="n-d10"><circle class="g" cx="849" cy="966" r="9"/></g>
<g id="n-d11"><circle class="y" cx="788" cy="989" r="7"/></g>
<g id="n-d12"><circle class="g" cx="813" cy="1007" r="9"/></g>
<g id="n-d13"><circle class="g" cx="848" cy="999" r="7"/></g>
<g id="n-d14"><circle class="yc" cx="887" cy="1034" r="11"/></g>
<g id="n-d15"><circle class="yc" cx="739" cy="1006" r="9"/></g>
<g id="n-d16"><circle class="y" cx="759" cy="1017" r="7"/></g>
<g id="n-d17"><circle class="g" cx="707" cy="1027" r="7"/></g>
<g id="n-d18"><circle class="g" cx="678" cy="1043" r="7"/></g>
<g id="n-d19"><circle class="g" cx="740" cy="1058" r="7"/></g>
<g id="n-d20"><circle class="g" cx="705" cy="1072" r="7"/></g>
<g id="n-d21"><circle class="y" cx="827" cy="1053" r="6"/></g>
<g id="n-d22"><circle class="y" cx="828" cy="1103" r="7"/></g>
<g id="n-d23"><circle class="y" cx="862" cy="1126" r="7"/></g>
<g id="n-b0"><circle class="yg" cx="943" cy="1043" r="9"/></g>
<g id="n-b1"><circle class="yg" cx="917" cy="1080" r="6"/></g>
<g id="n-b2"><circle class="yg" cx="943" cy="1080" r="7"/></g>
<g id="n-b3"><circle class="yg" cx="970" cy="1074" r="6"/></g>
<g id="n-b4"><circle class="yg" cx="946" cy="1099" r="7"/></g>
<g id="n-b5"><circle class="yg" cx="912" cy="1105" r="6"/></g>
<g id="n-b6"><circle class="yg" cx="981" cy="1097" r="6"/></g>
<g id="n-b7"><circle class="yg" cx="926" cy="1126" r="6"/></g>
<g id="n-b8"><circle class="yg" cx="951" cy="1131" r="6"/></g>
<g id="n-b9"><circle class="yg" cx="973" cy="1121" r="6"/></g>
<g id="n-i1"><circle class="y" cx="866" cy="641" r="6"/></g>
<g id="n-i2"><circle class="y" cx="903" cy="658" r="7"/></g>
<g id="n-i3"><circle class="y" cx="850" cy="680" r="7"/></g>
<g id="n-i4"><circle class="y" cx="888" cy="707" r="13"/></g>
<g id="n-i5"><circle class="g" cx="880" cy="726" r="6"/></g>
<g id="n-i6"><circle class="g" cx="872" cy="747" r="6"/></g>
<g id="n-i7"><circle class="g" cx="876" cy="767" r="6"/></g>
<g id="n-i8"><circle class="y" cx="844" cy="765" r="7"/></g>
<g id="n-i9"><circle class="yg" cx="882" cy="793" r="7"/></g>
<g id="n-i10"><circle class="y" cx="855" cy="806" r="7"/></g>
<g id="n-i11"><circle class="g" cx="937" cy="797" r="7"/></g>
<g id="n-i12"><circle class="yg" cx="956" cy="787" r="9"/></g>
<g id="n-i13"><circle class="y" cx="959" cy="737" r="6"/></g>
<g id="n-i14"><circle class="y" cx="974" cy="753" r="7"/></g>
<g id="n-i15"><circle class="yg" cx="1017" cy="737" r="7"/></g>
<g id="n-i16"><circle class="yg" cx="1058" cy="744" r="7"/></g>
<g id="n-i17"><circle class="yc" cx="992" cy="799" r="9"/></g>
<g id="n-i18"><circle class="t" cx="1058" cy="777" r="4"/></g>
<g id="n-i19"><circle class="y" cx="902" cy="657" r="6"/></g>
<g id="n-jg1"><circle class="g" cx="890" cy="835" r="7"/></g>
<g id="n-jg2"><circle class="y" cx="817" cy="858" r="7"/></g>
<g id="n-jg3"><circle class="gg" cx="874" cy="861" r="9"/></g>
<g id="n-jg4"><circle class="y" cx="935" cy="855" r="7"/></g>
<g id="n-jg5"><circle class="yg" cx="983" cy="869" r="7"/></g>
<g id="n-jg6"><circle class="yg" cx="897" cy="876" r="7"/></g>
<g id="n-jg7"><circle class="g" cx="923" cy="889" r="12"/></g>
<g id="n-jg8"><circle class="y" cx="827" cy="882" r="7"/></g>
<g id="n-jg9"><circle class="y" cx="878" cy="907" r="7"/></g>
<g id="n-jg10"><circle class="y" cx="855" cy="899" r="6"/></g>
<g id="n-jg11"><circle class="g" cx="840" cy="916" r="6"/></g>
<g id="n-jg12"><circle class="y" cx="970" cy="837" r="6"/></g>
<g id="n-tt1"><circle class="t" cx="1193" cy="682" r="11"/></g>
<g id="n-tt2"><circle class="t" cx="1215" cy="698" r="11"/></g>
<g id="n-tt3"><circle class="t" cx="1171" cy="728" r="9"/></g>
<g id="n-gm"><circle class="y" cx="1119" cy="770" r="14"/></g>
<g id="n-r1"><circle class="g" cx="1056" cy="803" r="6"/></g>
<g id="n-r2"><circle class="g" cx="1084" cy="812" r="7"/></g>
<g id="n-r3"><circle class="g" cx="1043" cy="823" r="6"/></g>
<g id="n-r4"><circle class="g" cx="1087" cy="838" r="6"/></g>
<g id="n-r5"><circle class="g" cx="1027" cy="846" r="12"/></g>
<g id="n-r6"><circle class="g" cx="1059" cy="848" r="15"/></g>
<g id="n-r7"><circle class="gg" cx="1010" cy="865" r="9"/></g>
<g id="n-r8"><circle class="t" cx="1189" cy="813" r="11"/></g>
<g id="n-r9"><circle class="y" cx="1140" cy="883" r="7"/></g>
<g id="n-r10"><circle class="t" cx="1342" cy="867" r="14"/></g>
<g id="n-r11"><circle class="gg" cx="1110" cy="899" r="7"/></g>
<g id="n-r12"><circle class="yg" cx="1032" cy="933" r="6"/></g>
<g id="n-r13"><circle class="gg" cx="1065" cy="935" r="7"/></g>
<g id="n-r14"><circle class="gg" cx="1105" cy="942" r="7"/></g>
<g id="n-r15"><circle class="y" cx="1326" cy="983" r="13"/></g>
<g id="n-x1"><circle class="yg" cx="1628" cy="493" r="11"/></g>
<g id="n-x2"><circle class="g" cx="1627" cy="718" r="11"/></g>
<g id="n-x3"><circle class="t" cx="1717" cy="653" r="4"/></g>
<g id="n-x4"><circle class="yg" cx="1853" cy="641" r="10"/></g>
<g id="n-x5"><circle class="yg" cx="1892" cy="649" r="11"/></g>
<g id="n-x6"><circle class="yg" cx="1680" cy="852" r="11"/></g>
<g id="n-x7"><circle class="yg" cx="1635" cy="872" r="10"/></g>
<g id="n-x8"><circle class="yg" cx="1676" cy="900" r="10"/></g>
<g id="n-x9"><circle class="g" cx="1540" cy="803" r="6"/></g>
<g id="n-x10"><circle class="yc" cx="763" cy="1205" r="12"/></g>
<g id="n-x11"><circle class="tb" cx="642" cy="1231" r="4"/></g>
<g id="n-x12"><circle class="t" cx="1053" cy="1259" r="10"/></g>
<g id="n-x13"><circle class="yg" cx="1153" cy="1140" r="10"/></g>
<g id="n-x14"><circle class="g" cx="1229" cy="1158" r="3"/></g>
</g>

<g id="labeled-nodes">
<g id="dickson"><circle class="yc" cx="991" cy="289" r="15"/><text class="lb" x="992" y="290" font-size="39" textLength="346" lengthAdjust="spacingAndGlyphs">Dickson, Dennis W</text></g>
<g id="ramig"><circle class="t" cx="1231" cy="322" r="19"/><text class="lb" x="1233" y="324" font-size="38" textLength="197" lengthAdjust="spacingAndGlyphs">Ramig, LO</text></g>
<g id="josephs"><circle class="yc" cx="795" cy="394" r="16"/><text class="lb" x="797" y="395" font-size="44" textLength="353" lengthAdjust="spacingAndGlyphs">Josephs, Keith A</text></g>
<g id="duffy"><circle class="yc" cx="1209" cy="409" r="15"/><text class="lb" x="1210" y="410" font-size="37" textLength="287" lengthAdjust="spacingAndGlyphs">Duffy, Joseph R</text></g>
<g id="clark"><circle class="yc" cx="1076" cy="457" r="15"/><text class="lb" x="1078" y="458" font-size="35" textLength="281" lengthAdjust="spacingAndGlyphs">Clark, Heather M</text></g>
<g id="ciucci"><circle class="yc" cx="255" cy="461" r="15"/><text class="lb" x="256" y="462" font-size="38" textLength="328" lengthAdjust="spacingAndGlyphs">Ciucci, Michelle R</text></g>
<g id="whitwell"><circle class="yc" cx="1081" cy="517" r="15"/><text class="lb" x="1083" y="518" font-size="38" textLength="359" lengthAdjust="spacingAndGlyphs">Whitwell, Jennifer L</text></g>
<g id="kelm"><circle class="yc" cx="257" cy="570" r="16"/><text class="lb" x="259" y="572" font-size="38" textLength="425" lengthAdjust="spacingAndGlyphs">Kelm-nelson, Cynthia A</text></g>
<g id="rektorova"><circle class="yg" cx="1017" cy="572" r="11"/><text class="lb" x="1020" y="573" font-size="37" textLength="294" lengthAdjust="spacingAndGlyphs">Rektorova, Irena</text></g>
<g id="skodda"><circle class="g" cx="975" cy="655" r="19"/><text class="lb" x="977" y="655" font-size="39" textLength="293" lengthAdjust="spacingAndGlyphs">Skodda, Sabine</text></g>
<g id="ibanez"><circle class="yc" cx="924" cy="728" r="14"/><text class="lb" x="925" y="728" font-size="36" textLength="261" lengthAdjust="spacingAndGlyphs">Ibanez, Agustin</text></g>
<g id="garcia"><circle class="yc" cx="915" cy="773" r="13"/><text class="lb" x="915" y="773" font-size="37" textLength="292" lengthAdjust="spacingAndGlyphs">Garcia, Adolfo M</text></g>
<g id="jog"><circle class="yc" cx="792" cy="828" r="14"/><text class="lb" x="792" y="828" font-size="36" textLength="209" lengthAdjust="spacingAndGlyphs">Jog, Mandar</text></g>
<g id="ruzicka"><circle class="yc" cx="1256" cy="870" r="19"/><text class="lb" x="1257" y="870" font-size="44" textLength="316" lengthAdjust="spacingAndGlyphs">Ruzicka, Evzen</text></g>
<g id="rusz"><circle class="yc" cx="965" cy="930" r="28"/><text class="lb" x="968" y="930" font-size="47" textLength="222" lengthAdjust="spacingAndGlyphs">Rusz, Jan</text></g>
<g id="tykalova"><circle class="yc" cx="1024" cy="979" r="20"/><text class="lb" x="1028" y="980" font-size="41" textLength="326" lengthAdjust="spacingAndGlyphs">Tykalova, Tereza</text></g>
<g id="tjaden"><circle class="yc" cx="316" cy="1056" r="14"/><text class="lb" x="319" y="1055" font-size="37" textLength="214" lengthAdjust="spacingAndGlyphs">Tjaden, Kris</text></g>
</g>
</svg>
